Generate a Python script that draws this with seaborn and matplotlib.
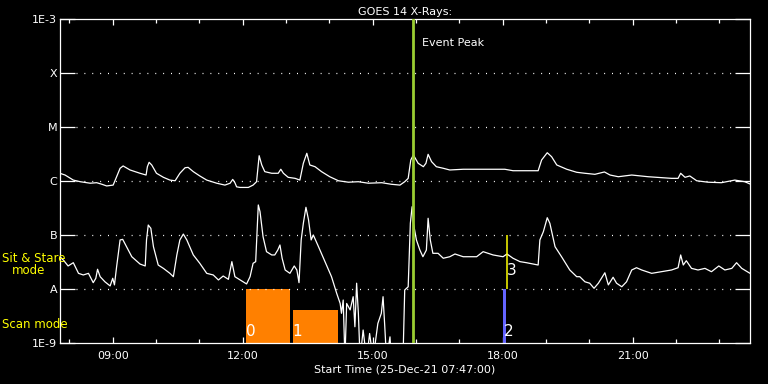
import numpy as np
import pandas as pd
import seaborn as sns
import matplotlib.pyplot as plt
import matplotlib.dates as mdates

sns.set_theme(style="ticks", rc={
    "figure.facecolor": "black", "axes.facecolor": "black",
    "axes.edgecolor": "white", "axes.labelcolor": "white",
    "text.color": "white", "xtick.color": "white", "ytick.color": "white",
    "axes.grid": False,
})
plt.rcParams["font.family"] = ["DejaVu Sans"]

## Data (decimal hours on 25-Dec-21, W/m^2)
long_hours = [7.78, 7.90, 8.09, 8.25, 8.48, 8.63, 8.75, 8.86, 9.01, 9.09, 9.17, 9.24, 9.40, 9.63, 9.77,
              9.80, 9.84, 9.90, 10.01, 10.17, 10.32, 10.44, 10.55, 10.67, 10.74, 10.86, 11.01, 11.17,
              11.40, 11.59, 11.71, 11.77, 11.82, 11.86, 11.94, 12.13, 12.24, 12.32, 12.38, 12.44, 12.51,
              12.67, 12.82, 12.88, 12.94, 13.05, 13.21, 13.32, 13.40, 13.48, 13.55, 13.67, 13.82, 14.01,
              14.21, 14.44, 14.67, 14.90, 15.21, 15.43, 15.63, 15.74, 15.82, 15.88, 15.94, 16.05, 16.17,
              16.23, 16.28, 16.36, 16.47, 16.63, 16.78, 17.09, 17.55, 18.05, 18.24, 18.82, 18.90, 19.03,
              19.13, 19.25, 19.48, 19.71, 19.90, 20.13, 20.35, 20.48, 20.67, 20.98, 21.36, 21.90, 22.05,
              22.11, 22.21, 22.32, 22.48, 22.74, 23.05, 23.36, 23.59, 23.71]
long_flux = [1.39e-6, 1.29e-6, 1.04e-6, 9.7e-7, 9.1e-7, 9.3e-7, 8.7e-7, 8.1e-7, 8.4e-7, 1.2e-6, 1.72e-6,
             1.9e-6, 1.6e-6, 1.39e-6, 1.29e-6, 1.84e-6, 2.22e-6, 1.98e-6, 1.39e-6, 1.17e-6, 1.04e-6,
             1.01e-6, 1.39e-6, 1.76e-6, 1.79e-6, 1.49e-6, 1.24e-6, 1.04e-6, 9.1e-7, 8.4e-7, 9.1e-7,
             1.07e-6, 9.3e-7, 7.8e-7, 7.6e-7, 7.6e-7, 8.4e-7, 9.7e-7, 2.94e-6, 1.98e-6, 1.49e-6, 1.39e-6,
             1.39e-6, 1.65e-6, 1.39e-6, 1.17e-6, 1.12e-6, 1.04e-6, 2.13e-6, 3.26e-6, 1.98e-6, 1.84e-6,
             1.49e-6, 1.2e-6, 1.01e-6, 9.5e-7, 9.7e-7, 9.1e-7, 9.3e-7, 8.7e-7, 8.4e-7, 9.7e-7, 1.12e-6,
             2.45e-6, 3.03e-6, 2.13e-6, 1.84e-6, 2.13e-6, 3.12e-6, 2.28e-6, 1.84e-6, 1.72e-6, 1.6e-6,
             1.65e-6, 1.65e-6, 1.65e-6, 1.55e-6, 1.55e-6, 2.45e-6, 3.34e-6, 2.82e-6, 1.98e-6, 1.65e-6,
             1.45e-6, 1.39e-6, 1.33e-6, 1.47e-6, 1.29e-6, 1.2e-6, 1.29e-6, 1.2e-6, 1.12e-6, 1.12e-6,
             1.39e-6, 1.17e-6, 1.24e-6, 1.01e-6, 9.5e-7, 9.3e-7, 1.04e-6, 9.7e-7, 8.8e-7]

short_hours = [7.78, 7.86, 7.97, 8.09, 8.21, 8.32, 8.44, 8.55, 8.61, 8.65, 8.71, 8.82, 8.94, 9.00, 9.04,
               9.09, 9.17, 9.23, 9.32, 9.44, 9.63, 9.75, 9.78, 9.82, 9.88, 9.94, 10.05, 10.17, 10.32,
               10.40, 10.48, 10.55, 10.63, 10.71, 10.86, 11.01, 11.17, 11.32, 11.44, 11.55, 11.67, 11.75,
               11.82, 11.94, 12.09, 12.17, 12.24, 12.30, 12.36, 12.40, 12.47, 12.55, 12.67, 12.74, 12.81,
               12.86, 12.91, 12.98, 13.09, 13.19, 13.25, 13.30, 13.35, 13.40, 13.46, 13.52, 13.58, 13.63,
               13.75, 13.90, 14.05, 14.17, 14.25, 14.28, 14.32, 14.36, 14.40, 14.48, 14.55, 14.59, 14.63,
               14.67, 14.71, 14.78, 14.86, 14.93, 15.01, 15.12, 15.20, 15.24, 15.28, 15.32, 15.40, 15.43,
               15.70, 15.74, 15.82, 15.87, 15.91, 15.94, 16.01, 16.09, 16.16, 16.24, 16.28, 16.33, 16.39,
               16.51, 16.63, 16.78, 16.90, 17.09, 17.40, 17.55, 17.78, 18.01, 18.10, 18.24, 18.40, 18.55,
               18.82, 18.86, 18.94, 19.03, 19.09, 19.21, 19.36, 19.55, 19.71, 19.78, 19.90, 20.01, 20.11,
               20.21, 20.36, 20.44, 20.55, 20.63, 20.75, 20.86, 20.98, 21.09, 21.21, 21.44, 21.67, 21.90,
               22.05, 22.11, 22.17, 22.24, 22.36, 22.51, 22.67, 22.82, 22.99, 23.13, 23.29, 23.40, 23.52,
               23.71]
short_flux = [3.96e-8, 3.44e-8, 2.67e-8, 3.07e-8, 1.95e-8, 1.82e-8, 1.95e-8, 1.31e-8, 1.58e-8, 2.32e-8,
              1.69e-8, 1.36e-8, 1.14e-8, 1.58e-8, 1.19e-8, 2.59e-8, 8.1e-8, 8.3e-8, 6.07e-8, 3.96e-8,
              2.9e-8, 2.67e-8, 8.1e-8, 1.53e-7, 1.33e-7, 6.07e-8, 2.78e-8, 2.41e-8, 1.95e-8, 1.69e-8,
              4.27e-8, 8.1e-8, 1.04e-7, 8.1e-8, 4.27e-8, 2.99e-8, 1.95e-8, 1.82e-8, 1.47e-8, 1.74e-8,
              1.51e-8, 3.21e-8, 1.69e-8, 1.47e-8, 1.24e-8, 1.69e-8, 2.99e-8, 3.21e-8, 3.6e-7, 2.7e-7,
              9.3e-8, 4.91e-8, 4.27e-8, 4.27e-8, 5.27e-8, 6.53e-8, 3.71e-8, 2.25e-8, 1.95e-8, 2.67e-8,
              2.25e-8, 1.31e-8, 8.1e-8, 1.65e-7, 3.26e-7, 1.9e-7, 8.1e-8, 1.0e-7, 6.07e-8, 3.21e-8,
              1.69e-8, 8.3e-9, 5.4e-9, 3.55e-9, 6.25e-9, 5e-10, 5.4e-9, 4.1e-9, 7.2e-9, 2.0e-9, 1.28e-8,
              3.55e-9, 5e-10, 1.74e-9, 5e-10, 1.5e-9, 5e-10, 2.3e-9, 3.55e-9, 7.2e-9, 2.0e-9, 5e-10,
              1.3e-9, 5e-10, 5e-10, 9.6e-9, 1.1e-8, 1.65e-7, 3.34e-7, 1.65e-7, 8.1e-8, 5.27e-8, 3.96e-8,
              5.27e-8, 2.04e-7, 8.1e-8, 4.58e-8, 4.58e-8, 3.71e-8, 3.96e-8, 4.45e-8, 3.96e-8, 3.96e-8,
              4.91e-8, 4.27e-8, 3.96e-8, 4.45e-8, 3.71e-8, 3.21e-8, 3.07e-8, 2.78e-8, 8.1e-8, 1.15e-7,
              2.09e-7, 1.65e-7, 6.07e-8, 3.96e-8, 2.25e-8, 1.69e-8, 1.69e-8, 1.36e-8, 1.28e-8, 1.03e-8,
              1.28e-8, 2.0e-8, 1.19e-8, 1.65e-8, 1.28e-8, 1.1e-8, 1.36e-8, 2.25e-8, 2.48e-8, 2.25e-8,
              1.95e-8, 2.09e-8, 2.25e-8, 2.48e-8, 4.27e-8, 2.78e-8, 3.34e-8, 2.41e-8, 2.25e-8, 2.41e-8,
              2.09e-8, 2.67e-8, 2.25e-8, 2.41e-8, 3.07e-8, 2.41e-8, 1.95e-8]

# observation modes: scan mode rasters and sit & stare
scan_labels = ["0", "1", "2"]
scan_start = [12.08, 13.15, 18.02]
scan_end = [13.10, 14.20, 18.085]
scan_top = [1e-8, 4e-9, 1e-8]
scan_colors = ["#ff8000", "#ff8000", "#6464ff"]
stare_labels = ["3"]
stare_hours = [18.09]

peak_hour = 15.925
level_flux = [1e-9, 1e-8, 1e-7, 1e-6, 1e-5, 1e-4, 1e-3]
level_names = ["1E-9", "A", "B", "C", "M", "X", "1E-3"]

day = pd.Timestamp("2021-12-25")
def to_time(h):
    return day + pd.to_timedelta(np.asarray(h), unit="h")

long_df = pd.DataFrame({"time": to_time(long_hours), "flux": long_flux})
short_df = pd.DataFrame({"time": to_time(short_hours), "flux": short_flux})

#----------------------------------------- plot -------------------------------------------------#
fig = plt.figure(figsize=(7.68, 3.84), dpi=100)
ax = fig.add_axes([60 / 768, 1 - 343 / 384, 690 / 768, 324 / 384])

sns.lineplot(data=long_df, x="time", y="flux", color="white", lw=0.9, sort=False, ax=ax)
sns.lineplot(data=short_df, x="time", y="flux", color="white", lw=0.9, sort=False, ax=ax)

ax.set_yscale("log")
ax.set_ylim(1e-9, 1e-3)
ax.set_xlim(to_time([7.783])[0], to_time([23.71])[0])

# dotted flare-class levels
for f in level_flux[1:-1]:
    ax.axhline(f, xmin=16 / 690, xmax=1 - 16 / 690, color="white", lw=0.9, ls=(0, (0.8, 5.5)))

# scan mode bars
for lab, s, e, top, c in zip(scan_labels, scan_start, scan_end, scan_top, scan_colors):
    s_t = to_time([s])[0]
    ax.bar(mdates.date2num(s_t), top - 1e-9, width=(e - s) / 24, bottom=1e-9,
           align="edge", color=c, lw=0, zorder=1)
    ax.text(s_t, 1.2e-9, lab, color="white", fontsize=11, ha="left", va="bottom", zorder=3)

# sit & stare
for lab, h in zip(stare_labels, stare_hours):
    t = to_time([h])[0]
    ax.vlines(t, 1e-8, 1e-7, color="yellow", lw=1.1, zorder=2)
    ax.text(t, 2.2e-8, lab, color="white", fontsize=11, ha="left", va="center", zorder=3)

# event peak
peak_t = to_time([peak_hour])[0]
ax.axvline(peak_t, color="#9acd32", lw=2.0, zorder=4)
ax.annotate("Event Peak", (peak_t, 3.6e-4), xytext=(7, 0), textcoords="offset points",
            color="white", fontsize=8, va="center", ha="left")

# axes styling
ax.set_yticks(level_flux)
ax.set_yticklabels(level_names)
ax.yaxis.set_minor_locator(plt.NullLocator())
ax.tick_params(axis="y", which="major", direction="in", length=10.5, width=0.9,
               left=True, right=True, pad=2, labelsize=8)
ax.xaxis.set_major_locator(mdates.HourLocator(byhour=[9, 12, 15, 18, 21]))
ax.xaxis.set_minor_locator(mdates.HourLocator())
ax.xaxis.set_major_formatter(mdates.DateFormatter("%H:%M"))
ax.tick_params(axis="x", which="major", direction="in", length=4.5, width=0.9,
               top=True, bottom=True, pad=6, labelsize=8)
ax.tick_params(axis="x", which="minor", direction="in", length=2.6, width=0.9,
               top=True, bottom=True)
for sp in ax.spines.values():
    sp.set_visible(True)
    sp.set_color("white")
    sp.set_linewidth(0.9)

ax.set_xlabel("Start Time (25-Dec-21 07:47:00)", fontsize=8, labelpad=2)
ax.set_ylabel(None)
ax.set_title("GOES 14 X-Rays:", fontsize=8, color="white", pad=3)

# mode labels on the left margin
fig.text(2 / 768, 1 - 259 / 384, "Sit & Stare", color="yellow", fontsize=8.5, va="center", ha="left", zorder=5)
fig.text(12 / 768, 1 - 271 / 384, "mode", color="yellow", fontsize=8.5, va="center", ha="left")
fig.text(2 / 768, 1 - 324 / 384, "Scan mode", color="yellow", fontsize=8.5, va="center", ha="left")

plt.savefig("out.png", dpi=100, facecolor="black")
plt.close()
